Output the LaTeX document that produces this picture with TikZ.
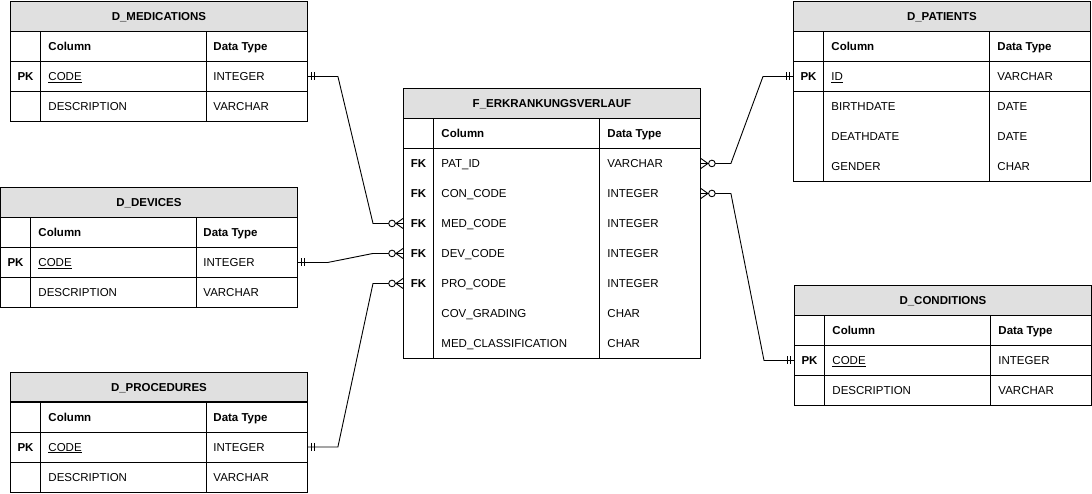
\documentclass[tikz,border=0pt]{standalone}
\usepackage{fontspec}
\setmainfont{Liberation Sans}
\usetikzlibrary{positioning,calc}
\definecolor{kopfgrau}{HTML}{E0E0E0}
\tikzset{
  kopf/.style={draw,fill=kopfgrau,anchor=north west,minimum width=297pt,minimum height=30pt,
    inner sep=0pt,text height=8.3pt,text depth=0pt,font=\fontsize{11.5}{13}\selectfont\bfseries},
  zeile/.style={anchor=north west,minimum width=297pt,minimum height=30pt,inner sep=0pt},
  schl/.style={anchor=base,inner sep=0pt,font=\fontsize{11.5}{13}\selectfont\bfseries},
  txt/.style={anchor=base west,inner sep=0pt},
  pics/einsmark/.style={code={\draw (4,-4) -- (4,4) (7,-4) -- (7,4);}},
  pics/vielemark/.style={code={\draw (0,-5) -- (7,0) -- (0,5) (0,0) -- (7,0);
    \draw[fill=white] (11,0) circle (3.3);}},
}

\begin{document}
\begin{tikzpicture}[x=1pt,y=-1pt,line width=0.9pt,font=\fontsize{11.5}{13}\selectfont]
  \useasboundingbox (0,0) rectangle (1092,493);
  % Dimensionstabellen links
  \node[kopf] (med) at (10,1) {D\_MEDICATIONS};
  \foreach \k/\c/\t [count=\i] in {/\textbf{Column}/\textbf{Data Type},PK/\underline{CODE}/INTEGER,/DESCRIPTION/VARCHAR}{
    \node[zeile] (med-\i) at (10,{1+30*\i}) {};
    \node[schl] (med-\i-k) at ([xshift=15.5pt,yshift=-4.1pt]med-\i.west) {\k};
    \node[txt] (med-\i-c) at ([xshift=38pt,yshift=-4.1pt]med-\i.west) {\c};
    \node[txt] (med-\i-t) at ([xshift=203pt,yshift=-4.1pt]med-\i.west) {\t};
  }
  \node[kopf] (dev) at (0,187) {D\_DEVICES};
  \foreach \k/\c/\t [count=\i] in {/\textbf{Column}/\textbf{Data Type},PK/\underline{CODE}/INTEGER,/DESCRIPTION/VARCHAR}{
    \node[zeile] (dev-\i) at (0,{187+30*\i}) {};
    \node[schl] (dev-\i-k) at ([xshift=15.5pt,yshift=-4.1pt]dev-\i.west) {\k};
    \node[txt] (dev-\i-c) at ([xshift=38pt,yshift=-4.1pt]dev-\i.west) {\c};
    \node[txt] (dev-\i-t) at ([xshift=203pt,yshift=-4.1pt]dev-\i.west) {\t};
  }
  \node[kopf] (pro) at (10,371.5) {D\_PROCEDURES};
  \foreach \k/\c/\t [count=\i] in {/\textbf{Column}/\textbf{Data Type},PK/\underline{CODE}/INTEGER,/DESCRIPTION/VARCHAR}{
    \node[zeile] (pro-\i) at (10,{371.5+30*\i}) {};
    \node[schl] (pro-\i-k) at ([xshift=15.5pt,yshift=-4.1pt]pro-\i.west) {\k};
    \node[txt] (pro-\i-c) at ([xshift=38pt,yshift=-4.1pt]pro-\i.west) {\c};
    \node[txt] (pro-\i-t) at ([xshift=203pt,yshift=-4.1pt]pro-\i.west) {\t};
  }
  % Faktentabelle
  \node[kopf] (f) at (403,88) {F\_ERKRANKUNGSVERLAUF};
  \foreach \k/\c/\t [count=\i] in {/\textbf{Column}/\textbf{Data Type},FK/PAT\_ID/VARCHAR,FK/CON\_CODE/INTEGER,
      FK/MED\_CODE/INTEGER,FK/DEV\_CODE/INTEGER,FK/PRO\_CODE/INTEGER,/COV\_GRADING/CHAR,/MED\_CLASSIFICATION/CHAR}{
    \node[zeile] (f-\i) at (403,{88+30*\i}) {};
    \node[schl] (f-\i-k) at ([xshift=15.5pt,yshift=-4.1pt]f-\i.west) {\k};
    \node[txt] (f-\i-c) at ([xshift=38pt,yshift=-4.1pt]f-\i.west) {\c};
    \node[txt] (f-\i-t) at ([xshift=204pt,yshift=-4.1pt]f-\i.west) {\t};
  }
  % Dimensionstabellen rechts
  \node[kopf] (pat) at (793,1) {D\_PATIENTS};
  \foreach \k/\c/\t [count=\i] in {/\textbf{Column}/\textbf{Data Type},PK/\underline{ID}/VARCHAR,/BIRTHDATE/DATE,/DEATHDATE/DATE,/GENDER/CHAR}{
    \node[zeile] (pat-\i) at (793,{1+30*\i}) {};
    \node[schl] (pat-\i-k) at ([xshift=15.5pt,yshift=-4.1pt]pat-\i.west) {\k};
    \node[txt] (pat-\i-c) at ([xshift=38pt,yshift=-4.1pt]pat-\i.west) {\c};
    \node[txt] (pat-\i-t) at ([xshift=204pt,yshift=-4.1pt]pat-\i.west) {\t};
  }
  \node[kopf] (con) at (794,285) {D\_CONDITIONS};
  \foreach \k/\c/\t [count=\i] in {/\textbf{Column}/\textbf{Data Type},PK/\underline{CODE}/INTEGER,/DESCRIPTION/VARCHAR}{
    \node[zeile] (con-\i) at (794,{285+30*\i}) {};
    \node[schl] (con-\i-k) at ([xshift=15.5pt,yshift=-4.1pt]con-\i.west) {\k};
    \node[txt] (con-\i-c) at ([xshift=38pt,yshift=-4.1pt]con-\i.west) {\c};
    \node[txt] (con-\i-t) at ([xshift=204pt,yshift=-4.1pt]con-\i.west) {\t};
  }
  % Rahmen und Trennlinien
  \foreach \tab/\n in {med/3,dev/3,pro/3,f/8,pat/5,con/3}{
    \draw (\tab-1.north west) rectangle (\tab-\n.south east);
    \draw ([xshift=30.5pt]\tab-1.north west) -- ([xshift=30.5pt]\tab-\n.south west);
    \draw ([xshift=196.5pt]\tab-1.north west) -- ([xshift=196.5pt]\tab-\n.south west);
  }
  \foreach \z in {med-1,med-2,dev-1,dev-2,pro-1,pro-2,f-1,pat-1,pat-2,con-1,con-2}
    \draw (\z.south west) -- (\z.south east);
  % Beziehungen
  \draw (med-2.east) -- ++(30,0) -- ([xshift=-30pt]f-4.west) -- (f-4.west);
  \draw (dev-2.east) -- ++(30,0) -- ([xshift=-30pt]f-5.west) -- (f-5.west);
  \draw (pro-2.east) -- ++(30,0) -- ([xshift=-30pt]f-6.west) -- (f-6.west);
  \draw (f-2.east) -- ++(30,0) -- ([xshift=-30pt]pat-2.west) -- (pat-2.west);
  \draw (f-3.east) -- ++(30,0) -- ([xshift=-30pt]con-2.west) -- (con-2.west);
  \foreach \z in {med-2,dev-2,pro-2} \pic at (\z.east) {einsmark};
  \foreach \z in {pat-2,con-2} \pic[xscale=-1] at (\z.west) {einsmark};
  \foreach \z in {f-2,f-3} \pic at (\z.east) {vielemark};
  \foreach \z in {f-4,f-5,f-6} \pic[xscale=-1] at (\z.west) {vielemark};
\end{tikzpicture}
\end{document}
